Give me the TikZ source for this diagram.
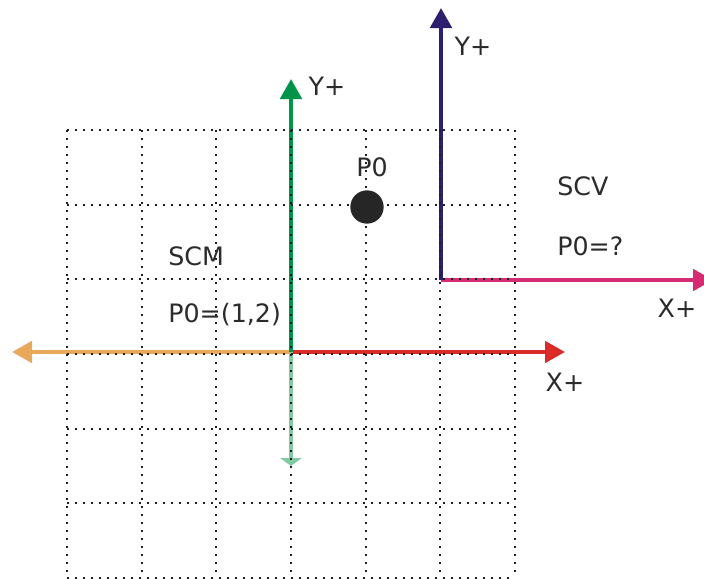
\documentclass[tikz,border=0pt]{standalone}
\usepackage{fontspec}
\setmainfont{DejaVu Sans}
\usetikzlibrary{arrows.meta}
\definecolor{txt}{HTML}{2B2B2B}
\definecolor{gridc}{HTML}{1E1E1E}
\definecolor{orangeax}{HTML}{E8A85A}
\definecolor{redax}{HTML}{DA2C27}
\definecolor{greenax}{HTML}{009448}
\definecolor{lgreenax}{HTML}{80C9A3}
\definecolor{purpleax}{HTML}{2D1F6E}
\definecolor{pinkax}{HTML}{D62B71}
\definecolor{dotc}{HTML}{262626}
\tikzset{
  gridline/.style={draw=gridc, line width=1.5pt, dash pattern=on 1.5pt off 4.5pt},
  axis/.style={line width=3pt, -{Triangle[length=15pt,width=16pt]}},
  lbl/.style={text=txt, font=\fontsize{19}{22}\selectfont, inner sep=0pt},
  lbll/.style={lbl, anchor=west},
}
\begin{document}
\begin{tikzpicture}[x=0.75pt,y=-0.75pt]
\useasboundingbox (0,0) rectangle (704,579);
% coordinates
\coordinate (o1) at (291,352);
\coordinate (yp1) at (291,79);
\coordinate (yn1) at (291,466);
\coordinate (xp1) at (565,352);
\coordinate (xn1) at (12,352);
\coordinate (o2) at (441,280);
\coordinate (yp2) at (441,8);
\coordinate (xp2) at (713,280);
% SCM axes
\draw[axis, draw=orangeax, -{Triangle[length=15pt,width=16pt,fill=orangeax]}] (o1) -- (xn1);
\draw[axis, draw=redax, -{Triangle[length=15pt,width=16pt,fill=redax]}] (o1) -- (xp1);
\draw[line width=3pt, draw=lgreenax, -{Triangle[length=6pt,width=16pt,fill=lgreenax]}] (o1) -- (yn1);
\draw[axis, draw=greenax, -{Triangle[length=15pt,width=16pt,fill=greenax]}] (o1) -- (yp1);
% SCV axes
\draw[axis, draw=pinkax, -{Triangle[length=15pt,width=16pt,fill=pinkax]}] (o2) -- (xp2);
\draw[axis, draw=purpleax, -{Triangle[length=15pt,width=16pt,fill=purpleax]}] (o2) -- (yp2);
% grid
\foreach \i in {0,...,6}{
  \draw[gridline] ({67+74.67*\i},130) -- ({67+74.67*\i},578);
  \draw[gridline] (67,{130+74.67*\i}) -- (515,{130+74.67*\i});
}
% point
\node[circle, fill=dotc, minimum size=25pt, inner sep=0pt] (p0) at (367,207) {};
\node[lbl] (p0l) at (372,167) {P0};
% labels
\node[lbl] (y1) at (327,86) {Y+};
\node[lbl] (x1) at (565,382) {X+};
\node[lbl] (y2) at (473,46) {Y+};
\node[lbl] (x2) at (677,308) {X+};
\node[lbll] (scm) at (168,256) {SCM};
\node[lbll] (scmp) at (168,315) {P0=(1,2)};
\node[lbll] (scv) at (557,186) {SCV};
\node[lbll] (scvp) at (557,246) {P0=?};
\end{tikzpicture}
\end{document}
